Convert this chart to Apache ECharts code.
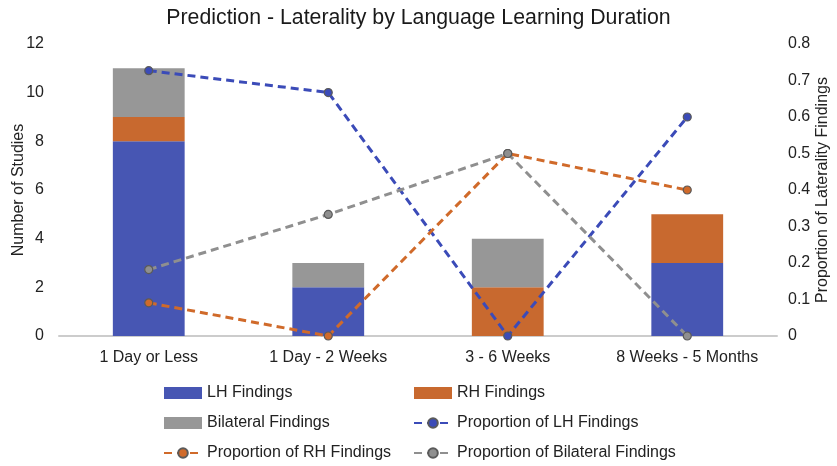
<!DOCTYPE html>
<html>
<head>
<meta charset="utf-8">
<script src="https://cdn.jsdelivr.net/npm/echarts@6/dist/echarts.min.js"></script>
<style>
  html, body { margin: 0; padding: 0; background: #fff; }
  #main { width: 837px; height: 466px; }
</style>
</head>
<body>
<div id="main"></div>
<script>
var categories = ['1 Day or Less', '1 Day - 2 Weeks', '3 - 6 Weeks', '8 Weeks - 5 Months'];
var lhFindings = [8, 2, 0, 3];
var rhFindings = [1, 0, 2, 2];
var bilateralFindings = [2, 1, 2, 0];
var propLH = [0.727, 0.667, 0, 0.6];
var propRH = [0.091, 0, 0.5, 0.4];
var propBilateral = [0.182, 0.333, 0.5, 0];

var blue = '#4756b3', orange = '#c8692f', grey = '#979797';
var font = 'Liberation Sans';

function lineSeries(name, data, color) {
    return {
        name: name,
        type: 'line',
        yAxisIndex: 1,
        data: data,
        symbol: 'circle',
        symbolSize: 8,
        itemStyle: { color: color, borderColor: '#5a5a5a', borderWidth: 1.2 },
        lineStyle: { color: color, width: 3, type: [8, 5] },
        z: 5
    };
}

var legendText = { fontFamily: font, fontSize: 16, color: '#222' };

var myChart = echarts.init(document.getElementById('main'));
var option = {
    animation: false,
    textStyle: { fontFamily: font },
    title: {
        text: 'Prediction - Laterality by Language Learning Duration',
        left: 'center',
        top: 3,
        textStyle: { fontFamily: font, fontSize: 21.3, fontWeight: 'normal', color: '#1a1a1a' }
    },
    grid: { left: 59, right: 60, top: 44, bottom: 130, outerBoundsMode: 'none' },
    legend: [
        {
            orient: 'vertical', left: 163, top: 385, itemGap: 14, padding: 0,
            itemWidth: 38, itemHeight: 12,
            textStyle: legendText,
            data: [
                { name: 'LH Findings', icon: 'rect' },
                { name: 'Bilateral Findings', icon: 'rect' },
                'Proportion of RH Findings'
            ]
        },
        {
            orient: 'vertical', left: 413, top: 385, itemGap: 14, padding: 0,
            itemWidth: 38, itemHeight: 12,
            textStyle: legendText,
            data: [
                { name: 'RH Findings', icon: 'rect' },
                'Proportion of LH Findings',
                'Proportion of Bilateral Findings'
            ]
        }
    ],
    xAxis: {
        type: 'category',
        data: categories,
        axisLine: { lineStyle: { color: '#cccccc', width: 2 } },
        axisTick: { show: false },
        axisLabel: { fontSize: 16, color: '#222', margin: 14, interval: 0 }
    },
    yAxis: [
        {
            type: 'value', min: 0, max: 12, interval: 2,
            name: 'Number of Studies', nameLocation: 'middle', nameGap: 32, nameMoveOverlap: false,
            nameTextStyle: { fontSize: 16, color: '#222' },
            splitLine: { show: false },
            axisLabel: { fontSize: 16, color: '#222', margin: 15 }
        },
        {
            type: 'value', min: 0, max: 0.8, interval: 0.1,
            name: 'Proportion of Laterality Findings', nameLocation: 'middle', nameGap: 38, nameMoveOverlap: false,
            nameTextStyle: { fontSize: 16, color: '#222' },
            splitLine: { show: false },
            axisLabel: { fontSize: 16, color: '#222', margin: 11,
                formatter: function (v) { return v === 0 ? '0' : v.toFixed(1); } }
        }
    ],
    series: [
        { name: 'LH Findings', type: 'bar', stack: 'n', barWidth: '40%', data: lhFindings, itemStyle: { color: blue } },
        { name: 'RH Findings', type: 'bar', stack: 'n', data: rhFindings, itemStyle: { color: orange } },
        { name: 'Bilateral Findings', type: 'bar', stack: 'n', data: bilateralFindings, itemStyle: { color: grey } },
        lineSeries('Proportion of LH Findings', propLH, '#3b4bb8'),
        lineSeries('Proportion of RH Findings', propRH, '#d06a2a'),
        lineSeries('Proportion of Bilateral Findings', propBilateral, '#8f8f8f')
    ]
};
myChart.setOption(option);
</script>
</body>
</html>
